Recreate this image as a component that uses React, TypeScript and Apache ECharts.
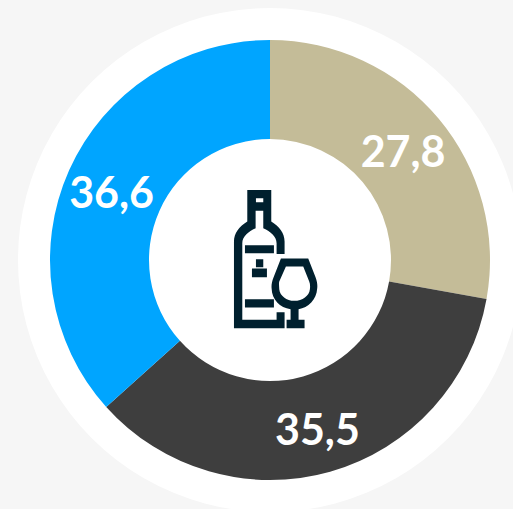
import React, { useEffect, useRef } from "react";
import * as echarts from "echarts";

const categories = ["A", "B", "C"];
const values = [27.8, 35.5, 36.6];
const colors = ["#c4bc98", "#3e3e3e", "#00a5ff"];
const labels = ["27,8", "35,5", "36,6"];

const ICON_D =
  "M142 60 L214 60 L214 155 C238 170 254 190 254 215 L254 252 L230 252 L230 220 C230 200 212 185 190 175 L190 122 L167 122 L167 175 C145 185 127 200 127 220 L127 450 L230 450 L230 427 L254 427 L254 475 L102 475 L102 215 C102 190 118 170 142 155 Z " +
  "M168 85 L168 97 L190 97 L190 85 Z " +
  "M135 226 L222 226 L222 250 L135 250 Z " +
  "M168 268 L190 268 L190 292 L168 292 Z " +
  "M156 296 L201 296 L201 322 L156 322 Z " +
  "M135 388 L222 388 L222 413 L135 413 Z " +
  "M243 266 L325 266 L347 322 C352 335 353 345 352 355 C350 390 325 413 296 418 L296 450 L314 450 L314 475 L260 475 L260 450 L272 450 L272 418 C240 413 216 390 215 355 C214 345 216 335 221 322 Z " +
  "M258 290 L238 335 C236 342 238 350 238 358 C240 378 260 393 283 393 C308 393 328 378 330 358 C331 350 331 342 328 335 L310 290 Z";

echarts.graphic.registerShape("bottleGlass", echarts.graphic.extendPath(ICON_D as any, {}) as any);

export default function App() {
  const ref = useRef<HTMLDivElement>(null);
  useEffect(() => {
    document.body.style.margin = "0";
    const chart = echarts.init(ref.current!, null, { renderer: "svg" });
    chart.setOption({
      animation: false,
      backgroundColor: "#f6f6f6",
      series: [
        {
          type: "pie",
          silent: true,
          center: [270, 260],
          radius: [0, 252],
          z: 1,
          label: { show: false },
          labelLine: { show: false },
          itemStyle: { color: "#ffffff" },
          data: [{ value: 1, name: "ring" }],
        },
        {
          type: "pie",
          silent: true,
          center: [270, 260],
          radius: [121, 220],
          startAngle: 90,
          clockwise: true,
          z: 2,
          label: {
            show: true,
            position: "inside",
            color: "#ffffff",
            fontFamily: "Lato",
            fontWeight: 700,
            fontSize: 43,
            offset: [0, 2],
            formatter: (p: any) => labels[p.dataIndex],
          },
          labelLine: { show: false },
          data: categories.map((name, i) => ({
            name,
            value: values[i],
            itemStyle: { color: colors[i] },
          })),
        },
      ],
      graphic: [
        {
          type: "bottleGlass",
          x: 200,
          y: 170,
          scaleX: 1 / 3,
          scaleY: 1 / 3,
          z: 100,
          style: { fill: "#00202e" },
        },
      ],
    });
    return () => chart.dispose();
  }, []);
  return <div ref={ref} style={{ width: 513, height: 509 }} />;
}
